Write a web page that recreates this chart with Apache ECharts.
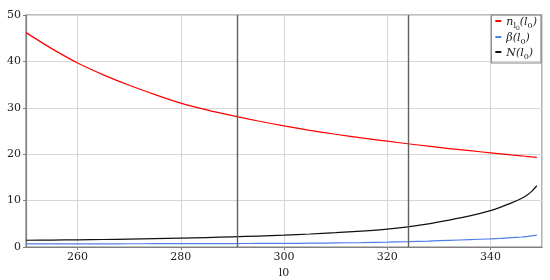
<!DOCTYPE html>
<html>
<head>
<meta charset="utf-8">
<script src="https://cdn.jsdelivr.net/npm/echarts@6/dist/echarts.min.js"></script>
<style>html,body{margin:0;padding:0;background:#fff;}#c{width:550px;height:280px;}</style>
</head>
<body>
<div id="c"></div>
<script>
const l0 = [250, 255, 260, 265, 270, 275, 280, 285, 290, 295, 300, 305, 310, 315, 320, 324, 328, 332, 336, 340, 342, 344, 346, 347, 348, 349];
const nL0 = [46.2, 42.75, 39.65, 37.1, 34.85, 32.85, 31.0, 29.55, 28.3, 27.15, 26.1, 25.15, 24.3, 23.52, 22.8, 22.25, 21.72, 21.22, 20.75, 20.3, 20.08, 19.86, 19.65, 19.55, 19.42, 19.3];
const beta = [0.68, 0.68, 0.69, 0.69, 0.7, 0.71, 0.72, 0.73, 0.74, 0.76, 0.78, 0.82, 0.88, 0.95, 1.05, 1.15, 1.28, 1.43, 1.59, 1.76, 1.87, 2.0, 2.15, 2.25, 2.38, 2.55];
const N = [1.45, 1.5, 1.55, 1.62, 1.7, 1.79, 1.9, 2.04, 2.2, 2.36, 2.55, 2.8, 3.1, 3.43, 3.85, 4.35, 5.0, 5.8, 6.7, 7.85, 8.6, 9.45, 10.45, 11.1, 12.0, 13.2];
const markers = [291, 324];
const xName = 'l0';
const names = ['n_l0(l0)', 'beta(l0)', 'N(l0)'];

function pairs(ys){ return l0.map((x,i)=>[x, ys[i]]); }
const legendText = {
  'n_l0(l0)': '{i|n}{s|l}{ss|0}{i|(l}{s|0}{i|)}',
  'beta(l0)': '{i|β(l}{s|0}{i|)}',
  'N(l0)': '{i|N(l}{s|0}{i|)}'
};
const chart = echarts.init(document.getElementById('c'));
const serif = 'DejaVu Serif';
chart.setOption({
  animation: false,
  grid: {left: 26, right: 8, top: 15, bottom: 33, outerBoundsMode: 'none', containLabel: false, show: true, borderColor: '#808080', borderWidth: 1.2, backgroundColor: 'transparent'},
  legend: {
    orient: 'vertical', right: 9, top: 15,
    data: names,
    icon: 'rect', itemWidth: 6, itemHeight: 2, itemGap: 2,
    borderColor: '#888', borderWidth: 1.2, borderRadius: 0,
    padding: [2, 4, 2, 4],
    formatter: n => legendText[n],
    textStyle: {
      fontFamily: serif, fontSize: 11, color: '#222',
      rich: {
        i: {fontFamily: serif, fontStyle: 'italic', fontSize: 11, lineHeight: 14, verticalAlign: 'bottom', color: '#222'},
        s: {fontFamily: serif, fontSize: 8, lineHeight: 10, verticalAlign: 'bottom', padding: [0,0,-2,0], color: '#222'},
        ss: {fontFamily: serif, fontSize: 6, lineHeight: 8, verticalAlign: 'bottom', padding: [0,0,-3,0], color: '#222'}
      }
    }
  },
  xAxis: {
    type: 'value', min: 250, max: 350, splitNumber: 5,
    name: xName, nameLocation: 'middle', nameGap: 20,
    nameTextStyle: {fontFamily: serif, fontSize: 11, color: '#222'},
    axisLine: {show: true, lineStyle: {color: '#808080', width: 1.2}},
    axisTick: {show: true, length: 3, lineStyle: {color: '#808080'}},
    axisLabel: {fontFamily: serif, fontSize: 11, color: '#222', margin: 5, showMinLabel: false, showMaxLabel: false},
    splitLine: {show: true, lineStyle: {color: '#d6d6d6', width: 1}}
  },
  yAxis: {
    type: 'value', min: 0, max: 50, interval: 10,
    axisLine: {show: true, lineStyle: {color: '#808080', width: 1.2}},
    axisTick: {show: true, length: 3, lineStyle: {color: '#808080'}},
    axisLabel: {fontFamily: serif, fontSize: 11, color: '#222', margin: 5},
    splitLine: {show: true, lineStyle: {color: '#d6d6d6', width: 1}}
  },
  series: [
    {name: names[0], type: 'line', data: pairs(nL0), smooth: 0.25, showSymbol: false, lineStyle: {color: '#ff0000', width: 1.2}, itemStyle: {color: '#ff0000'},
     markLine: {silent: true, symbol: 'none', label: {show: false}, lineStyle: {color: '#606060', width: 1.4, type: 'solid'},
       data: markers.map(v => ({xAxis: v}))}},
    {name: names[1], type: 'line', data: pairs(beta), smooth: 0.25, showSymbol: false, lineStyle: {color: '#4f7fe8', width: 1.2}, itemStyle: {color: '#4f7fe8'}},
    {name: names[2], type: 'line', data: pairs(N), smooth: 0.25, showSymbol: false, lineStyle: {color: '#111', width: 1.2}, itemStyle: {color: '#111'}}
  ]
});
</script>
</body>
</html>
